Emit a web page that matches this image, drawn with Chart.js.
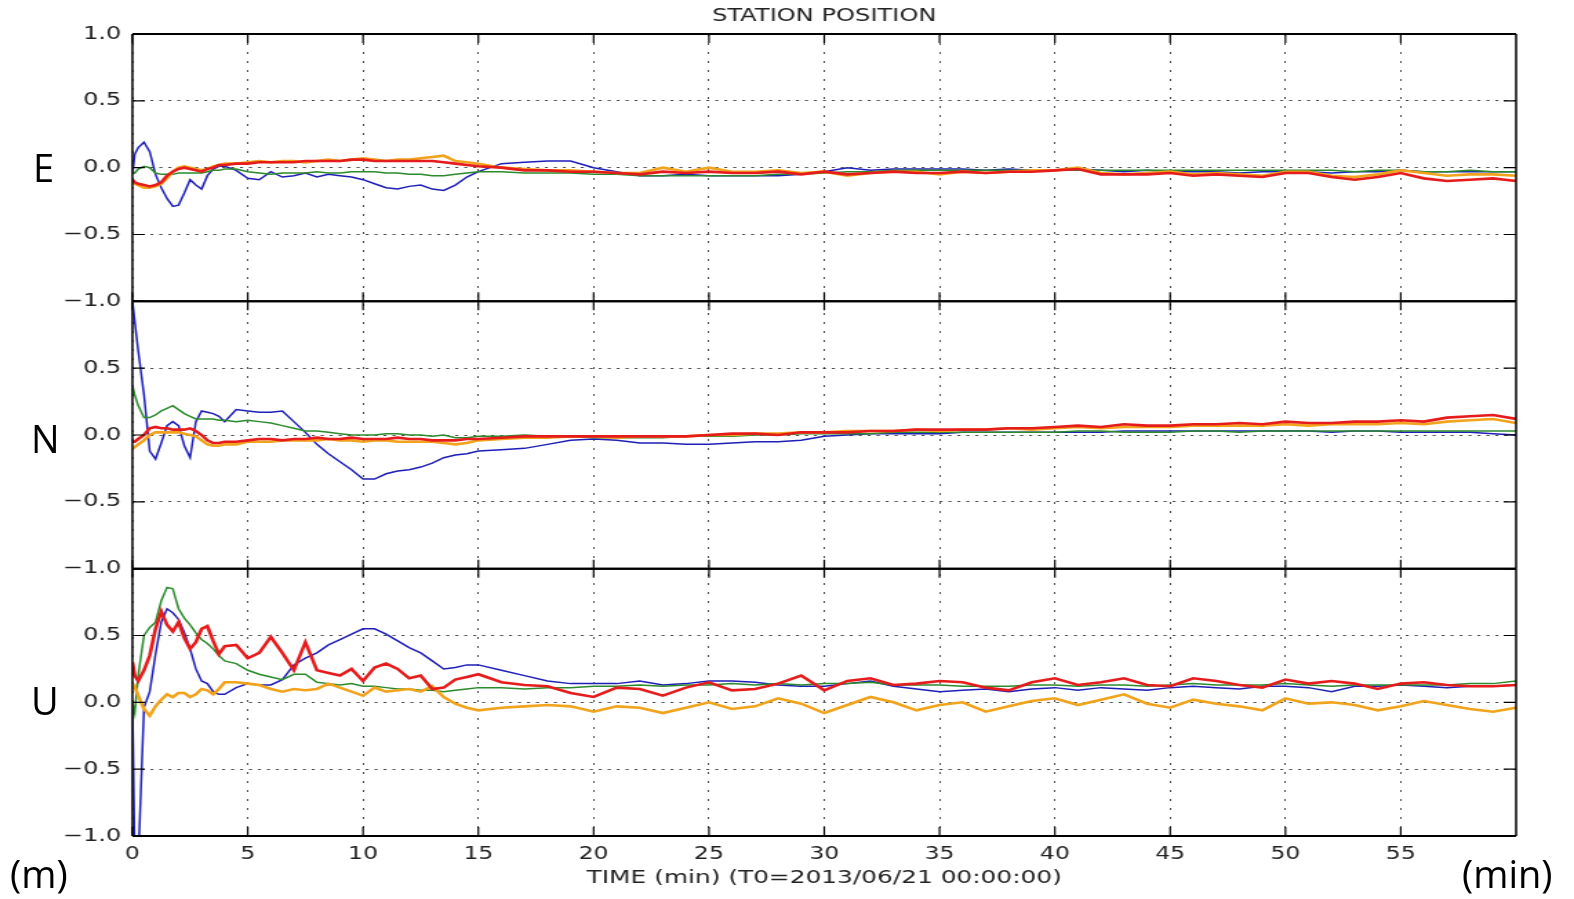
<!DOCTYPE html>
<html>
<head>
<meta charset="utf-8">
<title>Station position</title>
<script src="https://cdn.jsdelivr.net/npm/chart.js@4.4.1/dist/chart.umd.min.js"></script>
<style>
  html, body { margin: 0; padding: 0; background: #fff; overflow: hidden; }
  #wrap { position: relative; width: 1574px; height: 899px; }
  #chart { position: absolute; left: 0; top: 0; }
  .side { position: absolute; font-family: 'Open Sans', sans-serif; font-size: 38px; line-height: 1; color: #000; white-space: nowrap; }
</style>
</head>
<body>
<div id="wrap">
  <!-- the original plot is stretched sideways, so the canvas is drawn narrow and widened by its inline size -->
  <canvas id="chart" width="1141" height="899" style="width:1574px;height:899px"></canvas>
  <div class="side" style="left:33px;top:148px">E</div>
  <div class="side" style="left:31px;top:419px">N</div>
  <div class="side" style="left:31px;top:681px">U</div>
  <div class="side" style="left:10px;top:854px">(m)</div>
  <div class="side" style="left:1462px;top:854px">(min)</div>
</div>
<script>
// time in minutes since T0
const times = [
  0, 0.1, 0.25, 0.5, 0.75, 1, 1.25, 1.5, 1.75, 2, 2.25, 2.5, 2.75, 3, 3.25, 3.5, 3.75, 4,
  4.5, 5, 5.5, 6, 6.5, 7, 7.5, 8, 8.5, 9, 9.5, 10, 10.5, 11, 11.5, 12, 12.5, 13, 13.5, 14, 14.5, 15,
  16, 17, 18, 19, 20, 21, 22, 23, 24, 25,
  26, 27, 28, 29, 30, 31, 32, 33, 34, 35,
  36, 37, 38, 39, 40, 41, 42, 43, 44, 45,
  46, 47, 48, 49, 50, 51, 52, 53, 54, 55,
  56, 57, 58, 59, 60
];

// East (m)
const eastBlue = [
  -0.05, 0.10, 0.15, 0.19, 0.12, -0.05, -0.15, -0.23, -0.29, -0.28, -0.19, -0.09, -0.13, -0.16, -0.06, -0.01, 0.01, 0.01,
  -0.02, -0.08, -0.09, -0.03, -0.07, -0.06, -0.04, -0.07, -0.05, -0.06, -0.07, -0.09, -0.12, -0.15, -0.16, -0.14, -0.13, -0.16, -0.17, -0.13, -0.07, -0.03,
  0.03, 0.04, 0.05, 0.05, 0.00, -0.03, -0.06, -0.06, -0.05, -0.06,
  -0.06, -0.06, -0.06, -0.05, -0.03, 0.00, -0.02, -0.01, -0.01, -0.01,
  -0.01, -0.02, -0.01, -0.02, -0.02, -0.01, -0.02, -0.03, -0.02, -0.03,
  -0.03, -0.03, -0.04, -0.03, -0.03, -0.03, -0.04, -0.03, -0.03, -0.02,
  -0.03, -0.03, -0.03, -0.03, -0.03
];
const eastGreen = [
  -0.03, -0.04, -0.01, 0.01, 0.00, -0.04, -0.05, -0.05, -0.05, -0.04, -0.04, -0.04, -0.04, -0.04, -0.03, -0.02, -0.02, -0.01,
  -0.01, -0.03, -0.04, -0.05, -0.04, -0.04, -0.04, -0.03, -0.04, -0.04, -0.03, -0.03, -0.03, -0.04, -0.04, -0.05, -0.05, -0.06, -0.06, -0.05, -0.04, -0.03,
  -0.03, -0.04, -0.04, -0.04, -0.05, -0.05, -0.06, -0.06, -0.06, -0.06,
  -0.06, -0.06, -0.05, -0.05, -0.04, -0.03, -0.03, -0.02, -0.02, -0.02,
  -0.02, -0.02, -0.02, -0.02, -0.02, -0.02, -0.02, -0.02, -0.02, -0.02,
  -0.02, -0.02, -0.02, -0.02, -0.02, -0.02, -0.02, -0.03, -0.02, -0.02,
  -0.03, -0.03, -0.02, -0.03, -0.03
];
const eastOrange = [
  -0.10, -0.12, -0.13, -0.15, -0.15, -0.14, -0.12, -0.08, -0.03, 0.00, 0.01, 0.00, -0.01, -0.02, -0.01, 0.01, 0.02, 0.03,
  0.03, 0.04, 0.05, 0.04, 0.05, 0.05, 0.04, 0.05, 0.06, 0.05, 0.06, 0.07, 0.06, 0.05, 0.06, 0.06, 0.07, 0.08, 0.09, 0.05, 0.04, 0.03,
  0.00, -0.01, -0.02, -0.02, -0.03, -0.04, -0.04, 0.00, -0.03, 0.00,
  -0.03, -0.03, -0.02, -0.04, -0.03, -0.06, -0.04, -0.03, -0.03, -0.05,
  -0.03, -0.04, -0.03, -0.02, -0.02, 0.00, -0.04, -0.05, -0.04, -0.03,
  -0.05, -0.04, -0.05, -0.06, -0.03, -0.03, -0.06, -0.07, -0.05, -0.02,
  -0.04, -0.06, -0.05, -0.05, -0.06
];
const eastRed = [
  -0.09, -0.11, -0.12, -0.13, -0.14, -0.13, -0.11, -0.06, -0.03, -0.01, 0.00, -0.01, -0.02, -0.03, -0.01, 0.00, 0.02, 0.02,
  0.03, 0.03, 0.04, 0.04, 0.04, 0.04, 0.05, 0.05, 0.05, 0.05, 0.06, 0.06, 0.05, 0.05, 0.05, 0.05, 0.05, 0.05, 0.04, 0.03, 0.02, 0.01,
  0.00, -0.02, -0.02, -0.03, -0.03, -0.04, -0.05, -0.03, -0.04, -0.03,
  -0.04, -0.04, -0.03, -0.05, -0.03, -0.05, -0.04, -0.03, -0.04, -0.04,
  -0.03, -0.04, -0.03, -0.03, -0.02, -0.01, -0.05, -0.05, -0.05, -0.04,
  -0.06, -0.05, -0.06, -0.07, -0.04, -0.04, -0.07, -0.09, -0.07, -0.04,
  -0.08, -0.10, -0.09, -0.08, -0.10
];

// North (m)
const northBlue = [
  1.00, 0.85, 0.63, 0.30, -0.12, -0.18, -0.06, 0.07, 0.10, 0.07, -0.08, -0.17, 0.10, 0.18, 0.17, 0.16, 0.14, 0.10,
  0.19, 0.18, 0.17, 0.17, 0.18, 0.10, 0.02, -0.07, -0.14, -0.20, -0.26, -0.33, -0.33, -0.29, -0.27, -0.26, -0.24, -0.21, -0.17, -0.15, -0.14, -0.12,
  -0.11, -0.10, -0.07, -0.04, -0.03, -0.04, -0.06, -0.06, -0.07, -0.07,
  -0.06, -0.05, -0.05, -0.04, -0.01, 0.00, 0.01, 0.01, 0.01, 0.01,
  0.02, 0.02, 0.02, 0.02, 0.02, 0.02, 0.02, 0.03, 0.03, 0.03,
  0.03, 0.03, 0.03, 0.03, 0.03, 0.03, 0.02, 0.03, 0.03, 0.02,
  0.02, 0.02, 0.02, 0.01, 0.00
];
const northGreen = [
  0.37, 0.30, 0.22, 0.13, 0.13, 0.15, 0.18, 0.20, 0.22, 0.19, 0.16, 0.14, 0.12, 0.12, 0.12, 0.12, 0.11, 0.11,
  0.10, 0.11, 0.10, 0.09, 0.07, 0.05, 0.03, 0.03, 0.02, 0.01, 0.00, 0.00, 0.00, 0.01, 0.01, 0.00, 0.00, -0.01, 0.00, -0.02, -0.02, -0.01,
  -0.01, 0.00, -0.01, -0.01, -0.02, -0.02, -0.02, -0.02, -0.01, -0.01,
  -0.01, 0.00, 0.00, 0.01, 0.01, 0.01, 0.01, 0.02, 0.02, 0.02,
  0.02, 0.02, 0.02, 0.02, 0.02, 0.03, 0.03, 0.02, 0.02, 0.02,
  0.03, 0.03, 0.02, 0.03, 0.03, 0.03, 0.03, 0.03, 0.03, 0.03,
  0.03, 0.03, 0.03, 0.03, 0.03
];
const northOrange = [
  -0.10, -0.09, -0.07, -0.04, 0.00, 0.02, 0.02, 0.02, 0.02, 0.02, 0.01, 0.00, -0.01, -0.04, -0.07, -0.08, -0.08, -0.07,
  -0.07, -0.05, -0.05, -0.05, -0.04, -0.04, -0.04, -0.04, -0.03, -0.04, -0.04, -0.05, -0.04, -0.04, -0.05, -0.05, -0.05, -0.05, -0.06, -0.07, -0.06, -0.04,
  -0.03, -0.02, -0.02, -0.01, -0.01, -0.02, -0.01, -0.01, -0.01, 0.00,
  0.00, 0.01, 0.01, 0.02, 0.02, 0.03, 0.03, 0.03, 0.04, 0.03,
  0.04, 0.04, 0.05, 0.04, 0.05, 0.06, 0.05, 0.06, 0.06, 0.06,
  0.07, 0.07, 0.07, 0.07, 0.08, 0.07, 0.08, 0.08, 0.08, 0.09,
  0.08, 0.10, 0.11, 0.12, 0.09
];
const northRed = [
  -0.05, -0.05, -0.03, 0.00, 0.05, 0.06, 0.05, 0.05, 0.04, 0.04, 0.04, 0.05, 0.03, 0.00, -0.04, -0.06, -0.06, -0.05,
  -0.05, -0.04, -0.03, -0.03, -0.04, -0.03, -0.03, -0.02, -0.03, -0.03, -0.02, -0.03, -0.03, -0.03, -0.02, -0.03, -0.03, -0.04, -0.04, -0.04, -0.03, -0.03,
  -0.02, -0.01, -0.01, -0.01, -0.01, -0.01, -0.01, -0.01, -0.01, 0.00,
  0.01, 0.01, 0.00, 0.02, 0.02, 0.02, 0.03, 0.03, 0.04, 0.04,
  0.04, 0.04, 0.05, 0.05, 0.06, 0.07, 0.06, 0.08, 0.07, 0.07,
  0.08, 0.08, 0.09, 0.08, 0.10, 0.09, 0.09, 0.10, 0.10, 0.11,
  0.10, 0.13, 0.14, 0.15, 0.12
];

// Up (m)
const upBlue = [
  0.00, -1.20, -1.20, -0.04, 0.08, 0.36, 0.60, 0.70, 0.67, 0.62, 0.52, 0.40, 0.25, 0.16, 0.14, 0.08, 0.06, 0.06,
  0.11, 0.14, 0.13, 0.13, 0.17, 0.28, 0.33, 0.37, 0.43, 0.47, 0.51, 0.55, 0.55, 0.51, 0.46, 0.41, 0.37, 0.31, 0.25, 0.26, 0.28, 0.28,
  0.24, 0.20, 0.16, 0.14, 0.14, 0.14, 0.16, 0.13, 0.14, 0.16,
  0.16, 0.15, 0.13, 0.12, 0.12, 0.14, 0.16, 0.12, 0.10, 0.08,
  0.09, 0.10, 0.08, 0.10, 0.11, 0.09, 0.11, 0.10, 0.09, 0.11,
  0.12, 0.11, 0.10, 0.12, 0.12, 0.11, 0.08, 0.12, 0.12, 0.13,
  0.12, 0.11, 0.12, 0.12, 0.13
];
const upGreen = [
  0.00, -0.08, 0.20, 0.50, 0.56, 0.60, 0.76, 0.86, 0.85, 0.70, 0.63, 0.58, 0.52, 0.47, 0.44, 0.40, 0.35, 0.31,
  0.29, 0.24, 0.21, 0.19, 0.17, 0.21, 0.21, 0.15, 0.14, 0.13, 0.14, 0.12, 0.12, 0.11, 0.10, 0.10, 0.09, 0.09, 0.08, 0.09, 0.10, 0.11,
  0.11, 0.10, 0.11, 0.11, 0.12, 0.12, 0.13, 0.12, 0.13, 0.13,
  0.14, 0.13, 0.14, 0.13, 0.14, 0.14, 0.15, 0.13, 0.13, 0.13,
  0.12, 0.12, 0.12, 0.13, 0.13, 0.12, 0.13, 0.13, 0.12, 0.13,
  0.14, 0.13, 0.13, 0.13, 0.14, 0.13, 0.12, 0.13, 0.13, 0.13,
  0.13, 0.13, 0.14, 0.14, 0.16
];
const upOrange = [
  0.10, 0.12, 0.05, -0.05, -0.10, -0.03, 0.02, 0.06, 0.04, 0.07, 0.07, 0.04, 0.06, 0.10, 0.09, 0.06, 0.10, 0.15,
  0.15, 0.14, 0.13, 0.10, 0.08, 0.10, 0.09, 0.10, 0.14, 0.11, 0.08, 0.05, 0.11, 0.08, 0.09, 0.10, 0.08, 0.12, 0.04, -0.01, -0.04, -0.06,
  -0.04, -0.03, -0.02, -0.03, -0.07, -0.03, -0.04, -0.08, -0.04, 0.00,
  -0.05, -0.03, 0.03, -0.01, -0.08, -0.02, 0.04, 0.00, -0.06, -0.02,
  0.00, -0.07, -0.03, 0.01, 0.03, -0.02, 0.02, 0.06, -0.01, -0.04,
  0.02, -0.01, -0.03, -0.06, 0.03, -0.01, 0.00, -0.02, -0.06, -0.03,
  0.01, -0.02, -0.05, -0.07, -0.04
];
const upRed = [
  0.30, 0.20, 0.16, 0.24, 0.35, 0.55, 0.68, 0.58, 0.53, 0.60, 0.48, 0.40, 0.45, 0.55, 0.57, 0.46, 0.36, 0.42,
  0.43, 0.33, 0.37, 0.49, 0.37, 0.24, 0.45, 0.24, 0.22, 0.20, 0.25, 0.16, 0.26, 0.29, 0.25, 0.18, 0.20, 0.10, 0.11, 0.17, 0.19, 0.21,
  0.15, 0.13, 0.12, 0.07, 0.04, 0.11, 0.10, 0.05, 0.11, 0.15,
  0.09, 0.10, 0.14, 0.20, 0.09, 0.16, 0.18, 0.13, 0.14, 0.16,
  0.15, 0.11, 0.09, 0.15, 0.18, 0.13, 0.15, 0.18, 0.13, 0.12,
  0.18, 0.16, 0.13, 0.11, 0.17, 0.14, 0.16, 0.14, 0.10, 0.14,
  0.15, 0.13, 0.12, 0.12, 0.13
];

const xTicks = [0, 5, 10, 15, 20, 25, 30, 35, 40, 45, 50, 55];
const yTicks = [-1, -0.5, 0, 0.5, 1];

const BLUE = '#1e1eb8';
const GREEN = '#2b8a2b';
const ORANGE = '#f2a31c';
const RED = '#e61b1b';

const allSeries = [eastBlue, eastGreen, eastOrange, eastRed, northBlue, northGreen, northOrange, northRed, upBlue, upGreen, upOrange, upRed];
allSeries.forEach((s, i) => {
  if (s.length !== times.length) throw new Error('series ' + i + ' has ' + s.length + ' values, expected ' + times.length);
});

function line(values, color, width, axis, order) {
  return {
    data: times.map((t, i) => ({ x: t, y: values[i] })),
    borderColor: color,
    borderWidth: width,
    yAxisID: axis,
    order: order,
    pointRadius: 0,
    fill: false,
    tension: 0
  };
}

// red on top, blue at the bottom (lower order is drawn last)
const datasets = [
  line(eastRed, RED, 2.6, 'yE', 0), line(eastOrange, ORANGE, 2.6, 'yE', 1),
  line(eastGreen, GREEN, 1.5, 'yE', 2), line(eastBlue, BLUE, 1.5, 'yE', 3),
  line(northRed, RED, 2.6, 'yN', 0), line(northOrange, ORANGE, 2.6, 'yN', 1),
  line(northGreen, GREEN, 1.5, 'yN', 2), line(northBlue, BLUE, 1.5, 'yN', 3),
  line(upRed, RED, 2.6, 'yU', 0), line(upOrange, ORANGE, 2.6, 'yU', 1),
  line(upGreen, GREEN, 1.5, 'yU', 2), line(upBlue, BLUE, 1.5, 'yU', 3)
];

const fmt = v => v.toFixed(1).replace('-', '\u2212');

function panelAxis(hideTop) {
  return {
    type: 'linear',
    position: 'left',
    stack: 'enu',
    stackWeight: 1,
    min: -1,
    max: 1,
    afterBuildTicks: s => { s.ticks = yTicks.map(v => ({ value: v })); },
    ticks: {
      padding: 8,
      autoSkip: false,
      font: { size: 17.5 },
      callback: v => (hideTop && v === 1) ? '' : fmt(v)
    },
    grid: { color: 'rgba(0,0,0,0.7)', lineWidth: 1, drawTicks: false },
    border: { display: false, dash: [2.2, 4.3] },
    afterFit: s => { s.width = 96; }
  };
}

// black frame round each panel, with inward tick marks on all four sides
const framePlugin = {
  id: 'frame',
  afterDraw(chart) {
    const { ctx, scales } = chart;
    const x = scales.x;
    ctx.save();
    ctx.strokeStyle = '#000';
    ['yE', 'yN', 'yU'].forEach(id => {
      const y = scales[id];
      ctx.lineWidth = 1.2;
      ctx.beginPath();
      y.ticks.forEach(t => {
        const py = y.getPixelForValue(t.value);
        ctx.moveTo(x.left, py); ctx.lineTo(x.left + 9, py);
        ctx.moveTo(x.right, py); ctx.lineTo(x.right - 9, py);
      });
      x.ticks.forEach(t => {
        const px = x.getPixelForValue(t.value);
        ctx.moveTo(px, y.top); ctx.lineTo(px, y.top + 9);
        ctx.moveTo(px, y.bottom); ctx.lineTo(px, y.bottom - 9);
      });
      ctx.stroke();
      ctx.lineWidth = 2;
      ctx.beginPath();
      ctx.moveTo(x.left, y.top); ctx.lineTo(x.right, y.top);
      ctx.moveTo(x.left, y.bottom); ctx.lineTo(x.right, y.bottom);
      ctx.stroke();
      ctx.lineWidth = 1.5;
      ctx.beginPath();
      ctx.moveTo(x.left, y.top); ctx.lineTo(x.left, y.bottom);
      ctx.moveTo(x.right, y.top); ctx.lineTo(x.right, y.bottom);
      ctx.stroke();
    });
    ctx.restore();
  }
};

Chart.defaults.font.family = "'DejaVu Sans', sans-serif";
Chart.defaults.color = '#222';

new Chart(document.getElementById('chart'), {
  type: 'line',
  data: { datasets },
  plugins: [framePlugin],
  options: {
    responsive: false,
    animation: false,
    devicePixelRatio: 1,
    layout: { padding: { left: 0, right: 42, top: 0, bottom: 0 } },
    plugins: {
      legend: { display: false },
      tooltip: { enabled: false },
      title: {
        display: true,
        text: 'STATION POSITION',
        fullSize: false,
        color: '#222',
        font: { size: 17.5, weight: 'normal' },
        padding: { top: 6, bottom: 7 }
      }
    },
    scales: {
      x: {
        type: 'linear',
        min: 0,
        max: 60,
        afterBuildTicks: s => { s.ticks = xTicks.map(v => ({ value: v })); },
        ticks: { padding: 8, autoSkip: false, maxRotation: 0, font: { size: 17 } },
        grid: { color: 'rgba(0,0,0,0.7)', lineWidth: 1, drawTicks: false },
        border: { display: false, dash: [2, 7] },
        title: {
          display: true,
          text: 'TIME (min) (T0=2013/06/21 00:00:00)',
          color: '#222',
          font: { size: 18 },
          padding: { top: 0, bottom: 10 }
        },
        afterFit: s => { s.height = 63; }
      },
      yU: panelAxis(true),
      yN: panelAxis(true),
      yE: panelAxis(false)
    }
  }
});
</script>
</body>
</html>
